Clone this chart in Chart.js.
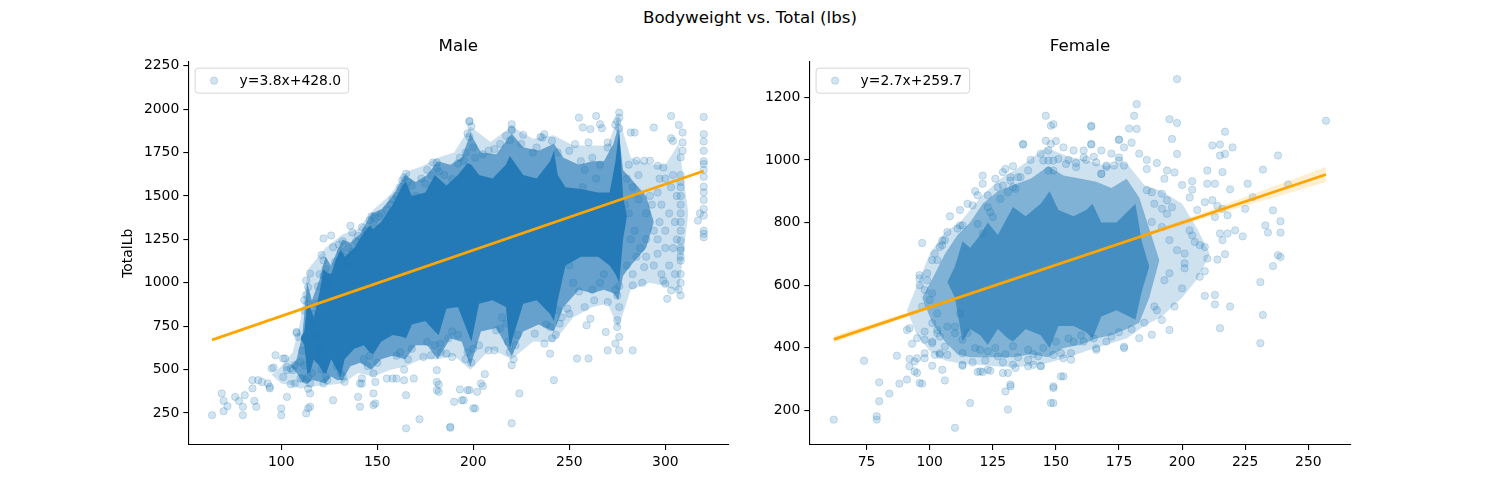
<!DOCTYPE html>
<html>
<head>
<meta charset="utf-8">
<script src="https://cdn.jsdelivr.net/npm/chart.js@4.4.0/dist/chart.umd.min.js"></script>
<style>
  body { margin: 0; background: #fff; width: 1500px; height: 500px; overflow: hidden; position: relative; font-family: "DejaVu Sans", sans-serif; }
  #suptitle { position: absolute; left: 0; top: 7px; width: 1500px; text-align: center; font-size: 16.7px; line-height: 20px; color: #000; }
  .panel { position: absolute; top: 0; height: 500px; }
  #malePanel { left: 116px; width: 640px; }
  #femalePanel { left: 750px; width: 750px; }
</style>
</head>
<body>
<div id="suptitle">Bodyweight vs. Total (lbs)</div>
<div class="panel" id="malePanel"><canvas id="maleChart"></canvas></div>
<div class="panel" id="femalePanel"><canvas id="femaleChart"></canvas></div>
<script>
// ---- Male: regression fit, ticks ----
const maleSlope = 3.8;
const maleIntercept = 428.0;
const maleXTicks = [100, 150, 200, 250, 300];
const maleYTicks = [250, 500, 750, 1000, 1250, 1500, 1750, 2000, 2250];

// overlapping-marker regions of the male cloud (bodyweight, upper total, lower total)
const maleSpreadX  = [95, 100, 106, 110, 114, 123, 132, 140, 148, 157, 165, 173, 181.5, 190, 198.5, 209, 220, 231, 242, 252, 262, 270, 275.5, 282, 292, 300, 307, 312];
const maleSpreadHi = [470, 520, 600, 780, 1080, 1200, 1280, 1310, 1420, 1510, 1640, 1670, 1720, 1750, 1900, 1810, 1900, 1830, 1850, 1790, 1790, 1790, 1960, 1720, 1680, 1680, 1800, 1400];
const maleSpreadLo = [470, 420, 410, 390, 400, 410, 420, 480, 460, 500, 520, 560, 560, 580, 500, 620, 560, 660, 660, 800, 860, 880, 740, 960, 1000, 980, 950, 1400];

const maleDenseX  = [105, 108, 111, 113.5, 116, 120, 123, 126, 129, 132, 136, 141, 147, 152, 158, 164.5, 170, 176, 181.5, 188, 194, 198.5, 204, 212, 220, 226, 234, 242, 247, 255, 262, 268, 273, 275.5, 278, 282, 290, 294];
const maleDenseHi = [520, 560, 700, 1000, 900, 1020, 1150, 1100, 1180, 1250, 1230, 1280, 1400, 1420, 1500, 1620, 1580, 1620, 1700, 1680, 1720, 1860, 1750, 1740, 1860, 1780, 1760, 1800, 1720, 1680, 1700, 1700, 1800, 1900, 1650, 1600, 1500, 1350];
const maleDenseLo = [520, 480, 430, 420, 440, 430, 420, 460, 440, 440, 520, 540, 500, 560, 580, 560, 640, 640, 560, 680, 660, 520, 720, 740, 580, 720, 760, 720, 860, 960, 940, 960, 940, 900, 1040, 1100, 1200, 1350];

const maleCoreX  = [110, 112, 113.5, 115, 117, 120, 122, 123.5, 126, 129, 131, 133, 138, 143, 146, 148, 152, 158, 163, 165, 168, 175, 180, 182, 186, 192, 197, 199, 203, 210, 217, 219, 221, 226, 233, 240, 242, 244, 248, 256, 265, 271, 274, 276, 278, 280];
const maleCoreHi = [680, 720, 880, 860, 800, 950, 1080, 1060, 1050, 1150, 1190, 1150, 1200, 1290, 1330, 1310, 1350, 1450, 1560, 1580, 1500, 1520, 1620, 1600, 1560, 1620, 1690, 1680, 1620, 1600, 1680, 1730, 1700, 1620, 1600, 1700, 1760, 1620, 1550, 1540, 1520, 1520, 1700, 1880, 1500, 1380];
const maleCoreLo = [680, 640, 480, 480, 560, 520, 480, 480, 560, 500, 460, 560, 620, 640, 600, 590, 660, 700, 690, 680, 760, 780, 720, 700, 850, 860, 720, 660, 880, 900, 860, 620, 700, 880, 900, 820, 780, 900, 1100, 1150, 1150, 1100, 1050, 1000, 1250, 1380];

// individual male lifters outside / on the edge of the dense core [bodyweight, total]
const malePoints = [
  [64,238],[69,363],[70,320],[70,261],[72,290],[76,343],[78,320],[80,238],[80,286],[81,353],[85,392],[85,439],[86,320],[87,286],[88,439],[90,429],[93,420],[94,392],[94,401],[95,506],[96,512],[97,583],[100,238],[100,277],[101,458],[101,564],[102,564],[103,343],[103,497],[103,516],[105,506],[105,416],[106,497],[107,420],[107,525],[108,711],[108,717],[109,688],[110,544],[110,449],[111,611],[111,449],[112,525],
  [113,1013],[114,975],[114,881],[115,1053],[113,930],[112,840],[112,900],[116,760],[114,458],[113,248],[114,277],[115,286],[115,363],[114,390],[113,440],[115,420],[116,480],
  [122,1255],[126,1272],[127,1205],[122,1128],[123,1080],[122,1040],[124,990],[121,1160],[120,1050],[119,980],[118,880],[117,820],[118,700],[119,560],[120,620],[121,500],[122,420],[123,460],[124,440],[127,324],
  [131,1180],[130,1220],[132,1240],[133,1150],[134,1100],[128,1120],[136,1329],[135,1200],[137,1180],[139,1240],[129,520],[131,480],[132,460],[133,430],
  [137,1290],[140,1270],[142,1320],[144,1300],[146,1360],[147,1383],[148,1340],[149,1373],[151,1380],[152,1400],[155,1420],[140,343],[141,286],[141,420],[142,420],[142,449],[143,560],[145,520],[146,580],[148,478],[149,429],[148,363],[149,305],[148,296],[150,540],
  [157,1450],[158,1482],[160,1500],[162,1549],[163,1590],[164,1607],[165,1628],[166,1580],[168,1560],[170,1500],[173,1600],[175,1570],[155,449],[158,449],[160,449],[160,580],[162,600],[164,439],[164,500],[165,162],[165,353],[166,560],[168,620],[169,449],[172,214],
  [176,1650],[178,1620],[179,1693],[181,1693],[181,1660],[182,1640],[185,1620],[174,573],[176,660],[178,583],[180,640],[181,382],[181,429],[181,497],[182,414],[182,372],[183,600],[183,650],[186,592],[187,680],[188,165],[188,171],[189,573],
  [189,1597],[192,1687],[193,1720],[195,1703],[196,1750],[197,1860],[198,1840],[198,1928],[198,1932],[199,1900],[200,1780],[201,1720],[189,720],[190,315],[192,700],[193,386],[194,324],[195,324],[196,560],[197,382],[197,600],[198,382],[199,540],[200,277],[200,620],[201,277],[202,372],[203,640],[204,420],[205,405],[206,474],[208,611],
  [205,1740],[208,1760],[211,1770],[214,1800],[217,1846],[219,1820],[220,1878],[220,1885],[220,1913],[225,1800],[226,1852],[211,611],[212,726],[214,736],[215,800],[217,765],[218,660],[219,602],[220,525],[220,191],[221,560],[222,640],[223,700],[224,363],
  [231,1750],[233,1779],[235,1840],[236,1836],[237,1856],[241,1817],[244,1750],[250,1760],[232,707],[237,650],[238,760],[240,592],[240,745],[241,680],[242,439],[243,700],[244,841],[245,765],[246,800],[249,851],[250,822],[254,564],[260,564],
  [253,1798],[255,1951],[256,1700],[257,1894],[258,1650],[260,1808],[261,1885],[262,1720],[264,1961],[264,1600],[266,1913],[266,1680],[267,1890],[270,1808],[270,1779],[257,1550],[250,1100],[252,1000],[255,950],[258,860],[259,755],[261,793],[262,960],[263,899],[266,1000],[268,1050],[269,717],[270,611],[270,889],
  [274,1910],[275,1930],[276,1890],[276,1951],[276,1980],[276,2172],[274,650],[274,960],[275,745],[275,784],[275,927],[276,611],[276,688],[276,860],[276,980],[283,611],
  [280,1600],[281,1680],[282,1865],[284,1865],[285,1703],[286,1620],[289,1703],[292,1703],[294,1894],[296,1674],[297,1600],[299,1664],[303,1961],[303,1832],[304,1817],[304,1620],[307,1909],[309,1865],[309,1808],[309,1760],[308,1722],[308,1620],[308,1580],[308,1550],[308,1500],[308,1450],[308,1400],[308,1350],[308,1300],[308,1243],[308,1200],[308,1186],[308,1150],[308,1128],[308,1050],[308,1000],[308,927],[307,960],[306,1500],[306,1250],[305,1350],[305,1050],[304,1200],[303,1550],[303,956],[302,1400],[302,1100],[301,908],[300,1600],[300,1300],[300,1200],[300,994],[299,1013],[298,1450],[298,1050],[297,1350],[296,1520],[296,1250],[296,1167],[294,1300],[294,1100],[293,1450],[292,1500],[290,1400],[290,1250],[290,1150],[289,1090],[288,1000],[287,1200],[286,1480],[285,1150],[284,1300],[283,1550],[283,1050],[283,985],[282,1250],[281,1400],[280,1100],[279,1450],
  [317,1358],[318,1400],[320,1955],[320,1856],[320,1814],[320,1760],[320,1700],[320,1684],[320,1650],[320,1610],[320,1553],[320,1520],[320,1477],[320,1425],[320,1387],[320,1300],[320,1282],[320,1262]
];

// ---- Female: regression fit, ticks ----
const femaleSlope = 2.7;
const femaleIntercept = 259.7;
const femaleXTicks = [75, 100, 125, 150, 175, 200, 225, 250];
const femaleYTicks = [200, 400, 600, 800, 1000, 1200];
// 95% confidence band half-width along the fit
const femaleBandX    = [62, 90, 120, 150, 180, 210, 240, 257];
const femaleBandHalf = [11, 7, 4, 3, 5, 10, 19, 24];

const femaleSpreadX  = [91, 95, 100, 106, 112, 120, 128, 136, 146, 155, 162, 170, 178, 185, 192, 200, 206, 211];
const femaleSpreadHi = [520, 600, 700, 770, 800, 880, 940, 980, 1040, 1010, 1000, 980, 990, 920, 900, 860, 780, 700];
const femaleSpreadLo = [520, 440, 390, 360, 350, 345, 340, 340, 350, 370, 390, 410, 430, 470, 500, 560, 620, 700];

const femaleDenseX  = [97, 101, 106, 111, 116, 121, 127, 133, 140, 147, 153, 160, 166, 172, 178, 183, 187, 191];
const femaleDenseHi = [560, 620, 700, 760, 800, 860, 900, 920, 940, 980, 950, 940, 930, 910, 940, 880, 780, 680];
const femaleDenseLo = [560, 480, 420, 380, 370, 370, 370, 370, 380, 370, 400, 410, 430, 440, 460, 480, 560, 680];

const femaleCoreX  = [107, 110, 113, 116, 120, 123, 127, 131, 133, 138, 144, 147.5, 151, 157, 162, 164.5, 168, 174, 179, 181.5, 184, 187];
const femaleCoreHi = [610, 660, 740, 720, 760, 800, 760, 820, 850, 820, 860, 900, 840, 820, 840, 860, 800, 800, 840, 860, 740, 660];
const femaleCoreLo = [610, 560, 420, 460, 440, 410, 460, 430, 420, 460, 440, 400, 470, 470, 450, 430, 500, 520, 500, 490, 580, 660];

const femalePoints = [
  [62,171],[74,359],[79,182],[79,171],[80,290],[80,230],[84,254],[87,375],[88,286],[91,457],[91,299],[92,365],[92,341],[92,463],[93,413],[94,325],[94,357],[95,320],[95,367],[95,431],[96,288],[96,632],[96,622],[96,600],[97,286],[97,735],[97,532],[98,452],[98,367],[98,383],[98,585],[98,426],[99,616],[99,638],[100,553],[101,343],[101,574],[101,680],[101,479],[101,415],[101,420],[102,378],[102,701],[103,457],[103,510],[103,447],[103,680],[104,378],[104,436],[104,383],[104,722],[105,728],[105,743],[105,330],[106,744],[106,404],[106,296],[107,770],[107,378],[107,468],[110,145],[110,468],[110,447],[111,781],[112,791],[112,510],[113,346],[113,426],[113,343],[113,383],[113,791],[115,447],[116,224],[117,354],[117,855],
  [108,820],[112,840],[115,860],[118,900],[121,950],[126,940],[133,980],[140,1000],[144,1020],[150,1060],[153,1040],[155,1000],[158,990],[162,1000],[165,1010],[168,1030],[172,1020],[177,1040],[179,1100],[183,1020],[186,1000],[190,990],[193,940],[197,960],[200,920],[203,880],[206,840],
  [118,400],[122,360],[126,400],[130,380],[135,370],[141,380],[145,400],[150,420],[155,430],[160,440],[165,430],[170,420],[175,450],[180,460],[185,480],[190,520],
  [119,323],[119,887],[119,796],[120,394],[120,325],[121,323],[121,765],[121,924],[123,887],[123,389],[123,849],[124,327],[123,330],[124,833],[125,818],[127,373],[127,913],[128,876],[129,354],[129,918],[129,961],[129,320],[130,971],[130,261],[131,320],[131,203],[131,897],[132,934],[132,945],[132,277],[132,283],[133,346],[133,405],[133,913],[134,336],[134,908],[135,945],[136,945],[137,1049],[137,1051],[139,966],[139,362],[139,394],[139,341],
  [141,346],[143,373],[144,341],[144,343],[145,998],[146,1061],[146,1141],[147,1030],[147,998],[147,966],[148,1051],[148,1109],[149,1114],[149,966],[149,998],[149,224],[148,224],[149,277],[149,272],[149,378],[151,1003],[152,383],[152,309],[153,309],[153,367],[154,987],[156,383],[156,362],[157,1030],[157,420],[158,977],[161,1030],[161,1008],[161,420],
  [164,1109],[164,1051],[164,1106],[164,1049],[166,992],[166,394],[166,399],[168,956],[168,955],[170,977],[170,982],[172,436],[173,982],[175,1064],[175,998],[175,1008],[175,1065],[177,982],[177,399],[177,404],
  [180,1055],[181,1141],[182,1178],[182,1099],[183,431],[186,971],[186,903],[188,897],[188,802],[188,442],[189,860],[189,532],[192,844],[192,786],[192,892],[192,489],[193,616],[194,966],[194,828],[194,871],[195,1130],[195,744],[195,638],[195,457],[196,1067],[196,849],[197,532],[198,1258],[198,1118],[198,1019],[198,712],
  [200,590],[201,701],[201,670],[201,654],[203,775],[204,932],[204,905],[204,759],[205,738],[207,728],[207,627],[209,722],[209,865],[209,645],[209,566],[210,966],[210,924],[210,685],[212,1046],[212,871],[213,924],[213,818],[213,569],[213,539],[214,853],[214,682],[215,1049],[215,1014],[215,765],[215,463],[216,961],[216,844],[216,744],[217,1090],[217,1019],[217,699],[218,823],[218,765],[219,906],[219,532],[220,1040],[221,775],[224,756],[225,844],[226,924],[228,881],[231,610],[231,415],[232,969],[232,505],[233,791],[234,768],[236,839],[236,661],[238,1014],[238,696],[239,804],[239,768],[239,690],[242,922],[257,1125]
];

const BLUE = 'rgba(31, 119, 180, ';
const ORANGE = '#ffa500';

// filled region between a lower and an upper edge
function areaLayer(xs, his, los, alpha, order) {
  const base = { type: 'line', borderWidth: 0, borderColor: 'transparent', pointRadius: 0, tension: 0, order: order };
  return [
    Object.assign({}, base, { data: xs.map((x, i) => ({ x: x, y: los[i] })), fill: false }),
    Object.assign({}, base, { data: xs.map((x, i) => ({ x: x, y: his[i] })), fill: '-1', backgroundColor: BLUE + alpha + ')' })
  ];
}

// legend frame drawn inside the plot, top-left, like matplotlib
const legendBox = {
  id: 'legendBox',
  afterDraw(chart, args, opts) {
    const { ctx, chartArea } = chart;
    ctx.save();
    ctx.font = '13.9px "DejaVu Sans"';
    const tw = ctx.measureText(opts.text).width;
    const x = chartArea.left + 6.8, y = chartArea.top + 6.6, w = 44.5 + tw + 7.5, h = 25;
    ctx.beginPath();
    if (ctx.roundRect) ctx.roundRect(x, y, w, h, 3); else ctx.rect(x, y, w, h);
    ctx.fillStyle = 'rgba(255,255,255,0.8)';
    ctx.fill();
    ctx.strokeStyle = 'rgba(204,204,204,0.8)';
    ctx.lineWidth = 1;
    ctx.stroke();
    ctx.beginPath();
    ctx.arc(x + 19, y + h / 2, 3.7, 0, Math.PI * 2);
    ctx.fillStyle = BLUE + '0.2)';
    ctx.fill();
    ctx.strokeStyle = BLUE + '0.2)';
    ctx.stroke();
    ctx.fillStyle = '#000';
    ctx.textBaseline = 'middle';
    ctx.fillText(opts.text, x + 44.5, y + h / 2 + 0.5);
    ctx.restore();
  }
};

function buildChart(o) {
  const xs = o.points.map(p => p[0]);
  const x0 = Math.min(...xs), x1 = Math.max(...xs);
  const fit = x => o.slope * x + o.intercept;

  let datasets = [];
  datasets = datasets.concat(areaLayer(o.spread[0], o.spread[1], o.spread[2], o.alphas[0], 10));
  datasets = datasets.concat(areaLayer(o.dense[0], o.dense[1], o.dense[2], o.alphas[1], 9));
  datasets = datasets.concat(areaLayer(o.core[0], o.core[1], o.core[2], o.alphas[2], 8));
  datasets.push({
    type: 'scatter',
    data: o.points.map(p => ({ x: p[0], y: p[1] })),
    pointRadius: 3.7,
    pointBackgroundColor: BLUE + '0.2)',
    pointBorderColor: BLUE + '0.2)',
    pointBorderWidth: 1,
    order: 7
  });
  if (o.bandX) {
    const bandBase = { type: 'line', borderWidth: 0, borderColor: 'transparent', pointRadius: 0, order: 3 };
    datasets.push(Object.assign({}, bandBase, { data: o.bandX.map((x, i) => ({ x: x, y: fit(x) - o.bandHalf[i] })), fill: false }));
    datasets.push(Object.assign({}, bandBase, { data: o.bandX.map((x, i) => ({ x: x, y: fit(x) + o.bandHalf[i] })), fill: '-1', backgroundColor: 'rgba(255,165,0,0.18)' }));
  }
  datasets.push({
    type: 'line',
    data: [{ x: x0, y: fit(x0) }, { x: x1, y: fit(x1) }],
    borderColor: ORANGE,
    borderWidth: 2.7,
    pointRadius: 0,
    fill: false,
    order: 1
  });

  const tickFont = { family: '"DejaVu Sans"', size: 13.9 };
  return new Chart(document.getElementById(o.canvas), {
    type: 'scatter',
    data: { datasets: datasets },
    plugins: [legendBox],
    options: {
      responsive: true,
      maintainAspectRatio: false,
      animation: false,
      events: [],
      layout: { padding: { left: 0, right: o.padRight, top: 0, bottom: 0 } },
      plugins: {
        legend: { display: false },
        tooltip: { enabled: false },
        title: {
          display: true,
          text: o.title,
          fullSize: false,
          color: '#000',
          font: { family: '"DejaVu Sans"', size: 16.7, weight: 'normal', lineHeight: 1.2 },
          padding: { top: 36.9, bottom: 4.6 }
        },
        legendBox: { text: 'y=' + o.slope + 'x+' + o.intercept.toFixed(1) }
      },
      scales: {
        x: {
          type: 'linear',
          position: 'bottom',
          min: o.xRange[0],
          max: o.xRange[1],
          afterBuildTicks: s => { s.ticks = o.xTicks.map(v => ({ value: v })); },
          afterFit: s => { s.height = 55; },
          ticks: { color: '#000', font: tickFont, padding: 4, maxRotation: 0, callback: v => String(v) },
          grid: { display: true, drawOnChartArea: false, drawTicks: true, tickLength: 5, color: '#000', lineWidth: 1.1 },
          border: { display: true, color: '#000', width: 1.1 }
        },
        y: {
          type: 'linear',
          position: 'left',
          min: o.yRange[0],
          max: o.yRange[1],
          afterBuildTicks: s => { s.ticks = o.yTicks.map(v => ({ value: v })); },
          afterFit: s => { s.width = o.yAxisWidth; },
          ticks: { color: '#000', font: tickFont, padding: 4, callback: v => String(v) },
          grid: { display: true, drawOnChartArea: false, drawTicks: true, tickLength: 5, color: '#000', lineWidth: 1.1 },
          border: { display: true, color: '#000', width: 1.1 },
          title: { display: !!o.yTitle, text: o.yTitle, color: '#000', font: tickFont, padding: { top: 4, bottom: 4 } }
        }
      }
    }
  });
}

buildChart({
  canvas: 'maleChart',
  title: 'Male',
  points: malePoints,
  slope: maleSlope, intercept: maleIntercept,
  spread: [maleSpreadX, maleSpreadHi, maleSpreadLo],
  dense: [maleDenseX, maleDenseHi, maleDenseLo],
  core: [maleCoreX, maleCoreHi, maleCoreLo],
  alphas: [0.22, 0.6, 0.92],
  xRange: [51.6, 332.8], yRange: [66, 2274],
  xTicks: maleXTicks, yTicks: maleYTicks,
  yTitle: 'TotalLb', yAxisWidth: 72.3, padRight: 27.7
});

buildChart({
  canvas: 'femaleChart',
  title: 'Female',
  points: femalePoints,
  slope: femaleSlope, intercept: femaleIntercept,
  spread: [femaleSpreadX, femaleSpreadHi, femaleSpreadLo],
  dense: [femaleDenseX, femaleDenseHi, femaleDenseLo],
  core: [femaleCoreX, femaleCoreHi, femaleCoreLo],
  alphas: [0.22, 0.45, 0.6],
  bandX: femaleBandX, bandHalf: femaleBandHalf,
  xRange: [52.3, 266.8], yRange: [90, 1314],
  xTicks: femaleXTicks, yTicks: femaleYTicks,
  yTitle: '', yAxisWidth: 59.3, padRight: 149.3
});
</script>
</body>
</html>
